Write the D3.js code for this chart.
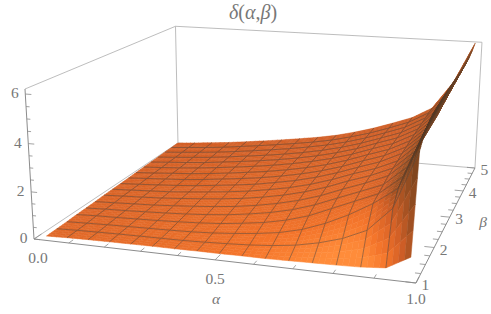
<!DOCTYPE html>
<html>
<head>
<meta charset="utf-8">
<script src="https://cdn.jsdelivr.net/npm/d3@7"></script>
<style>
  html, body { margin: 0; background: #fff; }
  svg { display: block; }
  text { font-family: "Liberation Serif", serif; fill: #777; font-size: 15.5px; text-anchor: middle; }
  .greek { font-style: italic; }
</style>
</head>
<body>
<svg width="491" height="314"></svg>
<script>
const WIDTH = 491;
const HEIGHT = 314;

const alphaTicks = [0, 0.5, 1];
const betaTicks = [1, 2, 3, 4, 5];
const zTicks = [0, 2, 4, 6];

// sampled mesh nodes
const alphaNodes = [0, 0.061, 0.1225, 0.184, 0.245, 0.306, 0.3675, 0.429, 0.49, 0.551, 0.6125, 0.674, 0.735, 0.796, 0.8575, 0.92, 0.98];
const betaNodes = [1.12, 1.36, 1.6, 1.85, 2.09, 2.33, 2.58, 2.82, 3.06, 3.3, 3.54, 3.79, 4.03, 4.27, 4.52, 4.76, 5];
// the sampled region starts a little inside alpha = 0 at low beta
const alphaInset = [.02, .019, .018, .016, .015, .014, .012, .011, .01, .009, .007, .006, .005, .004, .002, .001, 0];

// delta per alpha column, front (beta small) to back
const col0 = [0, 0, 0, 0, 0, 0, 0, 0, 0, 0, 0, 0, 0, 0, 0, 0, 0];
const col1 = [.03, .03, .03, .04, .04, .04, .05, .05, .05, .06, .06, .06, .07, .07, .07, .08, .08];
const col2 = [.05, .05, .06, .06, .07, .08, .09, .1, .11, .12, .13, .13, .14, .15, .15, .16, .17];
const col3 = [.06, .07, .08, .09, .11, .12, .14, .15, .17, .18, .2, .21, .22, .23, .24, .25, .26];
const col4 = [.07, .08, .1, .12, .15, .18, .21, .23, .25, .27, .29, .31, .33, .34, .35, .37, .38];
const col5 = [.08, .09, .12, .16, .2, .25, .29, .32, .35, .38, .4, .42, .44, .46, .47, .49, .5];
const col6 = [.08, .1, .15, .21, .27, .33, .38, .42, .46, .49, .52, .54, .56, .58, .6, .62, .63];
const col7 = [.09, .13, .2, .28, .36, .43, .49, .54, .58, .62, .65, .68, .7, .72, .74, .76, .77];
const col8 = [.09, .17, .28, .39, .49, .57, .64, .7, .75, .78, .81, .84, .86, .88, .9, .91, .92];
const col9 = [.1, .22, .38, .52, .65, .75, .82, .88, .93, .97, 1, 1.03, 1.05, 1.07, 1.08, 1.09, 1.1];
const col10 = [.1, .3, .52, .72, .87, .98, 1.06, 1.12, 1.17, 1.2, 1.23, 1.26, 1.28, 1.3, 1.31, 1.33, 1.34];
const col11 = [.12, .42, .75, 1, 1.17, 1.28, 1.36, 1.42, 1.46, 1.49, 1.52, 1.54, 1.56, 1.58, 1.59, 1.6, 1.62];
const col12 = [.14, .62, 1.1, 1.4, 1.55, 1.65, 1.72, 1.77, 1.8, 1.83, 1.86, 1.88, 1.9, 1.91, 1.92, 1.93, 1.95];
const col13 = [.16, .9, 1.55, 1.8, 1.92, 2, 2.04, 2.08, 2.12, 2.15, 2.18, 2.2, 2.23, 2.25, 2.27, 2.29, 2.3];
const col14 = [.19, 1.33, 2.1, 2.2, 2.3, 2.4, 2.45, 2.5, 2.58, 2.62, 2.66, 2.7, 2.73, 2.77, 2.8, 2.83, 2.85];
const col15 = [.27, 2.3, 2.8, 3, 3.15, 3.25, 3.32, 3.4, 3.45, 3.5, 3.55, 3.6, 3.7, 3.8, 3.9, 4.05, 4.2];
const col16 = [.8, 4.6, 5.05, 5.25, 5.4, 5.45, 5.5, 5.55, 5.58, 5.6, 5.63, 5.65, 5.67, 5.72, 5.8, 5.95, 6.15];
const columns = [col0, col1, col2, col3, col4, col5, col6, col7, col8, col9, col10, col11, col12, col13, col14, col15, col16];

const uScale = d3.scaleLinear().domain([0, 1]).range([0, 1]);
const vScale = d3.scaleLinear().domain([1, 5]).range([0, 1]);
const tScale = d3.scaleLinear().domain([0, 6.2]).range([0, 1]);

// camera fitted to the corners of the box
const camX = [340.9, 198.4, -9.96, 34];
const camY = [16.07, -52.27, -153.4, 239];
const camW = [-0.0987, 0.3058, -0.0383, 1];
const dot = (m, u, v, t) => m[0] * u + m[1] * v + m[2] * t + m[3];
const project = (a, b, z) => {
  const u = uScale(a), v = vScale(b), t = tScale(z);
  const w = dot(camW, u, v, t);
  return [dot(camX, u, v, t) / w, dot(camY, u, v, t) / w];
};

const svg = d3.select("svg").attr("viewBox", `0 0 ${WIDTH} ${HEIGHT}`);
const line = d3.line();

// back part of the box
const boxEdge = (pts, stroke, width) =>
  svg.append("path")
    .attr("d", line(pts.map((p) => project(...p))))
    .attr("fill", "none")
    .attr("stroke", stroke)
    .attr("stroke-width", width);

const ZTOP = 6.2;
boxEdge([[0, 1, ZTOP], [0, 5, ZTOP], [1, 5, ZTOP], [1, 5, 0]], "#b5b5b5", 0.9);
boxEdge([[0, 5, ZTOP], [0, 5, 0], [1, 5, 0]], "#b5b5b5", 0.9);
boxEdge([[0, 1, 0], [0, 5, 0]], "#b5b5b5", 0.9);

// surface shading
const nI = alphaNodes.length;
const nJ = betaNodes.length;
const shadeColor = d3.scaleLinear()
  .domain([0, 0.3, 0.6, 0.85, 1])
  .range(["#5c3418", "#8a4a20", "#d25f26", "#f4752b", "#ff8c3a"])
  .clamp(true);

const nodeShade = (i, j) => {
  const i0 = Math.max(i - 1, 0), i1 = Math.min(i + 1, nI - 1);
  const j0 = Math.max(j - 1, 0), j1 = Math.min(j + 1, nJ - 1);
  const zu = (0.6 * (tScale(columns[i1][j]) - tScale(columns[i0][j]))) / (uScale(alphaNodes[i1]) - uScale(alphaNodes[i0]));
  const zv = (0.6 * (tScale(columns[i][j1]) - tScale(columns[i][j0]))) / (vScale(betaNodes[j1]) - vScale(betaNodes[j0]));
  const len = Math.hypot(zu, zv, 1);
  const nu = zu / len, nv = zv / len;
  const v = vScale(betaNodes[j]), u = uScale(alphaNodes[i]);
  const edge = 3 * Math.max(0, u - 0.85) + 6 * Math.max(0, u - 0.93);
  return 0.6 + 0.3 * (1 - v) * (0.35 + 0.65 * u)
    + 0.25 * nv
    - (0.5 * nu * nu + edge) * (1 - 0.8 * v);
};

const nodeColors = alphaNodes.map((_, i) => betaNodes.map((_, j) => nodeShade(i, j)));
const nodeAlpha = (i, j) => alphaNodes[i] + alphaInset[j] * (1 - alphaNodes[i]);

const SUB = 4;
const pieces = [];
const bilerp = (f00, f10, f01, f11, s, r) =>
  f00 * (1 - s) * (1 - r) + f10 * s * (1 - r) + f01 * (1 - s) * r + f11 * s * r;

for (let j = nJ - 2; j >= 0; j--) {
  for (let i = 0; i < nI - 1; i++) {
    const at = (s, r) =>
      project(
        bilerp(nodeAlpha(i, j), nodeAlpha(i + 1, j), nodeAlpha(i, j + 1), nodeAlpha(i + 1, j + 1), s, r),
        betaNodes[j] + (betaNodes[j + 1] - betaNodes[j]) * r,
        bilerp(columns[i][j], columns[i + 1][j], columns[i][j + 1], columns[i + 1][j + 1], s, r)
      );
    const shadeAt = (s, r) =>
      bilerp(nodeColors[i][j], nodeColors[i + 1][j], nodeColors[i][j + 1], nodeColors[i + 1][j + 1], s, r);
    for (let r = SUB - 1; r >= 0; r--) {
      for (let s = 0; s < SUB; s++) {
        const a = s / SUB, b = (s + 1) / SUB, c = r / SUB, d = (r + 1) / SUB;
        const fill = shadeColor(shadeAt((a + b) / 2, (c + d) / 2));
        pieces.push({
          d: line([at(a, c), at(b, c), at(b, d), at(a, d)]) + "Z",
          fill, stroke: fill, width: 0.5, opacity: 1,
        });
      }
    }
    // back and left mesh lines of the cell, drawn after both neighbours
    const meshPts = [];
    if (j < nJ - 2) meshPts.push(line([at(0, 1), at(1, 1)]));
    if (i > 0) meshPts.push(line([at(0, 0), at(0, 1)]));
    if (meshPts.length)
      pieces.push({ d: meshPts.join(""), fill: "none", stroke: "#4a3f38", width: 0.7, opacity: 0.72 });
  }
}

svg.append("g")
  .selectAll("path")
  .data(pieces)
  .join("path")
  .attr("d", (p) => p.d)
  .attr("fill", (p) => p.fill)
  .attr("stroke", (p) => p.stroke)
  .attr("stroke-width", (p) => p.width)
  .attr("stroke-opacity", (p) => p.opacity);

// axes
const AXIS = "#8c8c8c";
boxEdge([[0, 1, 0], [1, 1, 0], [1, 5, 0]], AXIS, 1);
boxEdge([[0, 1, 0], [0, 1, ZTOP]], AXIS, 1);

const tickGroup = svg.append("g").attr("stroke", AXIS).attr("stroke-width", 0.8).attr("fill", "none");
const drawTick = (from, to) => tickGroup.append("path").attr("d", line([project(...from), project(...to)]));

d3.range(0, 11).forEach((k) => {
  const a = k / 10;
  const len = k % 5 === 0 ? 0.16 : 0.1;
  drawTick([a, 1, 0], [a, 1 + len, 0]);
});
d3.range(0, 17).forEach((k) => {
  const b = 1 + k / 4;
  const len = k % 4 === 0 ? 0.025 : 0.014;
  drawTick([1, b, 0], [1 - len, b, 0]);
});
d3.range(0, 13).forEach((k) => {
  const z = k / 2;
  const len = k % 4 === 0 ? 0.017 : 0.01;
  drawTick([0, 1, z], [len, 1, z]);
});

// tick labels
const fmtAlpha = d3.format(".1f");
alphaTicks.forEach((a) => {
  const [x, y] = project(a, 1, 0);
  svg.append("text").attr("x", x + (a === 0 ? 4 : 0)).attr("y", y + (a === 1 ? 21 : 24)).text(fmtAlpha(a));
});
betaTicks.forEach((b) => {
  const [x, y] = project(1, b, 0);
  svg.append("text").attr("x", x + 9.5).attr("y", y + 7).text(b);
});
zTicks.forEach((z) => {
  const [x, y] = project(0, 1, z);
  svg.append("text").attr("x", x - 10.5).attr("y", y + 4).text(z);
});

// labels
svg.append("text").attr("class", "greek").attr("x", 216).attr("y", 304).text("α");
svg.append("text").attr("class", "greek").attr("x", 483).attr("y", 227).text("β");
const title = svg.append("text").attr("x", 253).attr("y", 19).style("font-size", "20px");
title.append("tspan").attr("class", "greek").text("δ");
title.append("tspan").text("(");
title.append("tspan").attr("class", "greek").text("α");
title.append("tspan").text(",");
title.append("tspan").attr("class", "greek").text("β");
title.append("tspan").text(")");
</script>
</body>
</html>
